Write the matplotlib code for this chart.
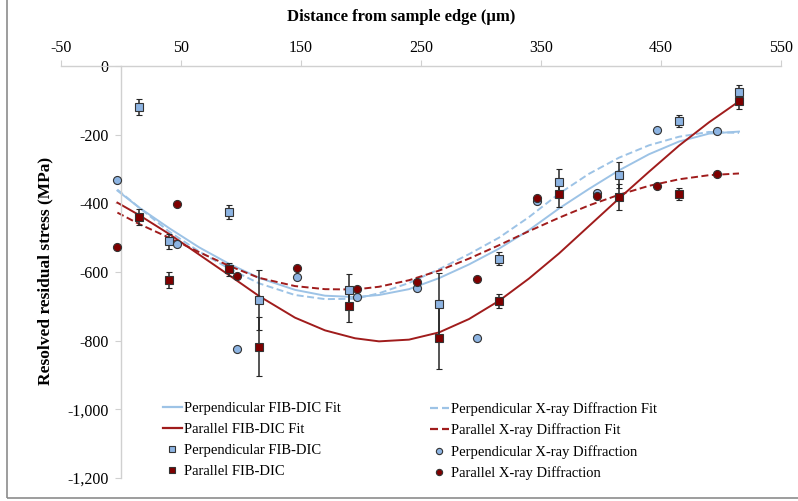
import numpy as np
import matplotlib.pyplot as plt
from matplotlib.ticker import FuncFormatter
from matplotlib.patches import Rectangle
from matplotlib.lines import Line2D

plt.rcParams['font.family'] = ['Liberation Serif', 'DejaVu Serif']
plt.rcParams['axes.unicode_minus'] = False

# =========================
# DATA
# =========================
# FIB-DIC measurements (squares with error bars)
fib_x = [15, 40, 90, 115, 190, 265, 315, 365, 415, 465, 515]
perp_fib_y = [-119, -510, -425, -682, -652, -694, -561, -339, -318, -160, -76]
perp_fib_err = [23, 22, 20, 88, 47, 90, 20, 39, 38, 18, 22]
par_fib_y = [-439, -623, -592, -817, -698, -793, -684, -373, -381, -372, -103]
par_fib_err = [23, 23, 19, 86, 49, 90, 20, 37, 38, 17, 21]

# X-ray diffraction measurements (circles)
xrd_x = [-3, 47, 97, 147, 197, 247, 297, 347, 397, 447, 497]
perp_xrd_y = [-332, -517, -824, -616, -672, -647, -793, -392, -369, -186, -189]
par_xrd_y = [-528, -402, -612, -589, -650, -628, -619, -385, -380, -349, -315]

# fitted trend lines
fit_x = [-3, 15, 40, 65, 90, 115, 145, 170, 195, 215, 240, 265, 290, 315,
         340, 365, 390, 415, 440, 465, 490, 515]
perp_fib_fit = [-363, -412, -472, -528, -576, -617, -652, -669, -673, -667, -650,
                -618, -578, -532, -478, -415, -358, -304, -257, -220, -197, -191]
perp_xrd_fit = [-360, -412, -482, -540, -590, -633, -667, -679, -678, -662, -632,
                -592, -548, -500, -440, -372, -314, -267, -231, -206, -192, -195]
par_fib_fit = [-398, -434, -489, -549, -609, -670, -733, -770, -793, -802, -797,
               -776, -737, -684, -619, -546, -466, -386, -308, -232, -164, -103]
par_xrd_fit = [-427, -460, -500, -542, -582, -617, -641, -650, -651, -643, -624,
               -596, -561, -522, -481, -442, -406, -375, -349, -330, -318, -313]

x_ticks = np.arange(-50, 551, 100)
y_ticks = np.arange(-1200, 1, 200)

# =========================
# STYLE
# =========================
BLUE_FILL = '#8DB4E2'
BLUE_LINE = '#9DC3E6'
RED_FILL = '#7F0000'
RED_LINE = '#A01C1C'
EDGE = '#333333'
AXIS_C = '#D0D0D0'
DASH = (0, (3.6, 1.8))

# =========================
# PLOT
# =========================
fig = plt.figure(figsize=(7.98, 5.01), dpi=100)
ax = fig.add_axes([61 / 798, 23 / 501, 720 / 798, 412 / 501])
ax.set_xlim(-50, 550)
ax.set_ylim(-1200, 0)

ax.plot(fit_x, perp_fib_fit, color=BLUE_LINE, lw=1.4, zorder=2)
ax.plot(fit_x, perp_xrd_fit, color=BLUE_LINE, lw=1.4, ls=DASH, zorder=2)
ax.plot(fit_x, par_fib_fit, color=RED_LINE, lw=1.4, zorder=2)
ax.plot(fit_x, par_xrd_fit, color=RED_LINE, lw=1.4, ls=DASH, zorder=2)

ax.errorbar(fib_x, perp_fib_y, yerr=perp_fib_err, fmt='s', ms=5.5, mfc=BLUE_FILL,
            mec=EDGE, mew=0.8, ecolor='#262626', elinewidth=1.1, capsize=2,
            capthick=1.1, zorder=4)
ax.errorbar(fib_x, par_fib_y, yerr=par_fib_err, fmt='s', ms=5.5, mfc=RED_FILL,
            mec=EDGE, mew=0.8, ecolor='#262626', elinewidth=1.1, capsize=2,
            capthick=1.1, zorder=4)
ax.plot(xrd_x, perp_xrd_y, 'o', ms=5.8, mfc=BLUE_FILL, mec=EDGE, mew=0.8, zorder=5)
ax.plot(xrd_x, par_xrd_y, 'o', ms=5.8, mfc=RED_FILL, mec=EDGE, mew=0.8, zorder=5)

# =========================
# AXES
# =========================
ax.spines['right'].set_visible(False)
ax.spines['bottom'].set_visible(False)
ax.spines['left'].set_position(('data', 0))
for s in ['left', 'top']:
    ax.spines[s].set_color(AXIS_C)
    ax.spines[s].set_linewidth(1.0)

ax.xaxis.tick_top()
ax.set_xticks(x_ticks)
ax.set_yticks(y_ticks)
ax.yaxis.set_major_formatter(FuncFormatter(lambda v, p: f"{int(v):,}"))
ax.tick_params(axis='x', direction='out', length=4, color=AXIS_C, labelsize=11.5, pad=3)
ax.tick_params(axis='y', direction='out', length=4, color=AXIS_C, labelsize=11.5, pad=5)
ax.patch.set_alpha(0)

fig.text(401 / 798, 1 - 17 / 501, 'Distance from sample edge (µm)', ha='center',
         va='center', fontsize=12, fontweight='bold')
fig.text(45 / 798, 1 - 271 / 501, 'Resolved residual stress (MPa)', ha='center',
         va='center', rotation=90, fontsize=12.5, fontweight='bold')

# =========================
# LEGEND
# =========================
h1 = [Line2D([], [], color=BLUE_LINE, lw=1.6),
      Line2D([], [], color=RED_LINE, lw=1.6),
      Line2D([], [], ls='none', marker='s', ms=4.5, mfc=BLUE_FILL, mec=EDGE, mew=0.8),
      Line2D([], [], ls='none', marker='s', ms=4.5, mfc=RED_FILL, mec=EDGE, mew=0.8)]
l1 = ['Perpendicular FIB-DIC Fit', 'Parallel FIB-DIC Fit',
      'Perpendicular FIB-DIC', 'Parallel FIB-DIC']
h2 = [Line2D([], [], color=BLUE_LINE, lw=1.6, ls=DASH),
      Line2D([], [], color=RED_LINE, lw=1.6, ls=DASH),
      Line2D([], [], ls='none', marker='o', ms=4.5, mfc=BLUE_FILL, mec=EDGE, mew=0.8),
      Line2D([], [], ls='none', marker='o', ms=4.5, mfc=RED_FILL, mec=EDGE, mew=0.8)]
l2 = ['Perpendicular X-ray Diffraction Fit', 'Parallel X-ray Diffraction Fit',
      'Perpendicular X-ray Diffraction', 'Parallel X-ray Diffraction']

leg_kw = dict(loc='upper left', frameon=False, fontsize=10.5, handlelength=1.3,
              handletextpad=0.15, labelspacing=0.53, borderpad=0, borderaxespad=0)
fig.legend(h1, l1, bbox_to_anchor=(163 / 798, 1 - 402 / 501), **leg_kw)
fig.legend(h2, l2, bbox_to_anchor=(430 / 798, 1 - 402 / 501), **leg_kw)

# frame around the chart
fig.add_artist(Rectangle((7 / 798, 3 / 501), 1.0, 1.0, transform=fig.transFigure,
                         fill=False, edgecolor='#8C8C8C', lw=1.2))

fig.savefig('out.png', dpi=100)
plt.close()
